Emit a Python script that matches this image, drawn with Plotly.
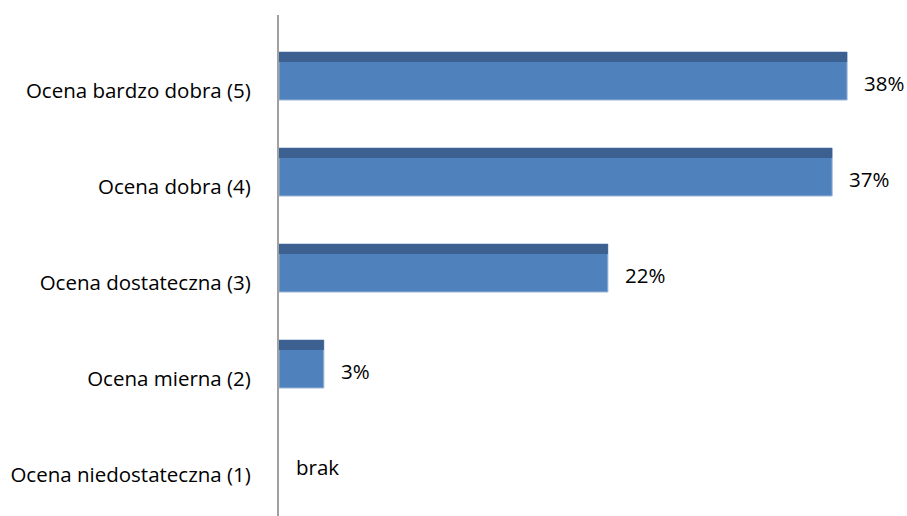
import plotly.graph_objects as go

categories = ["Ocena niedostateczna (1)", "Ocena mierna (2)", "Ocena dostateczna (3)",
              "Ocena dobra (4)", "Ocena bardzo dobra (5)"]
values = [0, 3, 22, 37, 38]
value_labels = ["brak" if v == 0 else f"{v}%" for v in values]

pos = list(range(len(categories)))
unit_px = 96.0
bar_w = 48 / unit_px
strip_w = 10 / unit_px
FONT = "Open Sans"
FS = 20.5

fig = go.Figure()
fig.add_trace(go.Bar(
    x=values, y=pos, orientation="h", width=bar_w,
    marker=dict(color="#4F81BD",
                line=dict(color="#9DB5D8", width=[1 if v > 0 else 0 for v in values])),
    hoverinfo="skip", showlegend=False,
))
fig.add_trace(go.Bar(
    x=values, y=pos, orientation="h", width=strip_w,
    offset=bar_w / 2 - strip_w,
    marker=dict(color="#3C6190", line=dict(width=0)),
    hoverinfo="skip", showlegend=False,
))

for p, v, t in zip(pos, values, value_labels):
    fig.add_annotation(x=v + 1.0, y=p - 7 / unit_px, text=t, showarrow=False,
                       xanchor="left", yanchor="middle",
                       font=dict(size=FS, color="#000000", family=FONT))

fig.update_layout(
    width=907, height=516, barmode="overlay",
    margin=dict(l=279, r=0, t=15, b=0),
    paper_bgcolor="white", plot_bgcolor="white",
    font=dict(family=FONT, size=FS, color="#000000"),
    xaxis=dict(range=[0, 628 / 14.95], visible=False, fixedrange=True),
    yaxis=dict(range=[-56 / unit_px, 4 + 61 / unit_px],
               tickvals=[p - 15 / unit_px for p in pos], ticktext=categories,
               tickfont=dict(size=FS, family=FONT),
               showline=True, linecolor="#A0A0A0", linewidth=2,
               showgrid=False, zeroline=False, ticks="",
               ticklabelstandoff=22, fixedrange=True),
)

fig.write_html(
    "out.html",
    config={"displayModeBar": False},
    post_script="document.body.style.margin='0';document.body.style.overflow='hidden';",
)
